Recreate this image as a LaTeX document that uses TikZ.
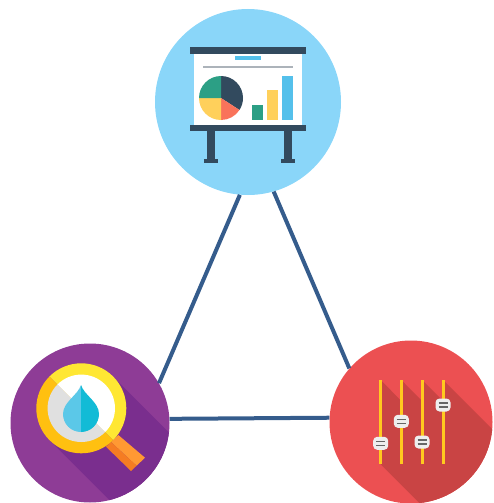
\documentclass[tikz,border=0pt]{standalone}
\definecolor{linkblue}{HTML}{355C8C}
\definecolor{skyblue}{HTML}{8AD6F9}
\definecolor{boardnavy}{HTML}{324A5E}
\definecolor{barblue}{HTML}{54C0EB}
\definecolor{bargreen}{HTML}{2C9F85}
\definecolor{baryellow}{HTML}{FFD05B}
\definecolor{piered}{HTML}{F9735B}
\definecolor{railgrey}{HTML}{ACB3BA}
\definecolor{lenspurple}{HTML}{8E3C96}
\definecolor{lensshadow}{HTML}{7A2E8E}
\definecolor{ringlight}{HTML}{FFE733}
\definecolor{ringdark}{HTML}{FFC010}
\definecolor{glassgrey}{HTML}{E0E0E0}
\definecolor{dropleft}{HTML}{5BC8E8}
\definecolor{dropright}{HTML}{12BBD6}
\definecolor{handlelight}{HTML}{FF9933}
\definecolor{handledark}{HTML}{F57C22}
\definecolor{mixerred}{HTML}{EC5052}
\definecolor{mixershadow}{HTML}{C94444}
\definecolor{sliderrail}{HTML}{FFC91F}
\definecolor{knobwhite}{HTML}{EEEEEE}
\definecolor{knobline}{HTML}{666666}
\begin{document}
\begin{tikzpicture}[x=1pt,y=-1pt,
    disc/.style = {circle, inner sep=0pt, minimum size=#1},
    link/.style = {draw=linkblue, line width=4pt},
    knob/.style = {rounded corners=4pt, fill=knobwhite, inner sep=0pt,
        minimum width=15pt, minimum height=13pt}]
\useasboundingbox (0,0) rectangle (493,503);
\node[disc=186pt, fill=skyblue] (board) at (248,102) {};
\node[disc=159pt, fill=lenspurple] (lens) at (90,423) {};
\node[disc=163pt, fill=mixerred] (mixer) at (411,422) {};
\draw[link] (board.265) -- (lens.30);
\draw[link] (board.286) -- (mixer.139);
\draw[link] (lens.3.3) -- (mixer.177.5);

\fill[boardnavy] (190,47) rectangle (306,54);
\fill[white] (194,54) rectangle (302,125);
\fill[barblue] (235,56) rectangle (261,60);
\fill[railgrey] (203,66) rectangle (293,68);
\coordinate (pie) at (221,98);
\fill[boardnavy] (pie) -- ++(90:22pt) arc[start angle=90,end angle=-33,radius=22pt] -- cycle;
\fill[piered] (pie) -- ++(-33:22pt) arc[start angle=-33,end angle=-90,radius=22pt] -- cycle;
\fill[baryellow] (pie) -- ++(-90:22pt) arc[start angle=-90,end angle=-180,radius=22pt] -- cycle;
\fill[bargreen] (pie) -- ++(180:22pt) arc[start angle=180,end angle=90,radius=22pt] -- cycle;
\fill[bargreen] (252,105) rectangle (263,120);
\fill[baryellow] (267,90) rectangle (278,120);
\fill[barblue] (282,76) rectangle (293,120);
\fill[boardnavy] (190,125) rectangle (306,131);
\foreach \x in {211,288} {
    \fill[boardnavy] (\x-4,131) rectangle (\x+4,159);
    \fill[boardnavy] (\x-7,159) rectangle (\x+7,163);
}

\begin{scope}
\clip (lens.center) circle[radius=79.5pt];
\fill[lensshadow] (113,376.5) -- (263,526.5) -- (199.5,590) -- (49.5,440) -- cycle;
\end{scope}
\coordinate (glass) at (81.3,408.3);
\fill[handlelight] (118.3,435) -- (145,457.7) -- (136.6,465.7) -- (111,442) -- cycle;
\fill[handledark] (111,442) -- (136.6,465.7) -- (131,471) -- (106,446.7) -- cycle;
\fill[ringlight] (glass) ++(135:45pt) arc[start angle=135,end angle=-45,radius=45pt] -- cycle;
\fill[ringdark] (glass) ++(135:45pt) arc[start angle=135,end angle=315,radius=45pt] -- cycle;
\fill[white] (glass) ++(135:33.7pt) arc[start angle=135,end angle=-45,radius=33.7pt] -- cycle;
\fill[glassgrey] (glass) ++(135:33.7pt) arc[start angle=135,end angle=315,radius=33.7pt] -- cycle;
\fill[dropleft] (81,385) .. controls (78,395) and (63,402) .. (63,414)
    .. controls (63,424) and (71,432) .. (81,432) -- cycle;
\fill[dropright] (81,385) .. controls (84,395) and (99,402) .. (99,414)
    .. controls (99,424) and (91,432) .. (81,432) -- cycle;

\begin{scope}
\clip (mixer.center) circle[radius=81.5pt];
\fill[mixershadow] (380.7,380) -- (401.3,401) -- (401.3,380) -- (422,401) -- (422,380)
    -- (443,401) -- (443,380) -- (620,557) -- (530.7,614.3) -- (380.7,464.3) -- cycle;
\end{scope}
\foreach \x/\y/\n in {380.7/443.3/a, 401.3/421.3/b, 422/442/c, 443/405/d} {
    \fill[sliderrail] (\x-1.5,380) rectangle (\x+1.5,464.3);
    \node[knob] (knob\n) at (\x,\y) {};
    \draw[knobline, line width=1.5pt] ([xshift=-4.5pt,yshift=2pt]knob\n.center) -- ([xshift=4.5pt,yshift=2pt]knob\n.center);
    \draw[knobline, line width=1.5pt] ([xshift=-4.5pt,yshift=-2pt]knob\n.center) -- ([xshift=4.5pt,yshift=-2pt]knob\n.center);
}
\end{tikzpicture}
\end{document}
